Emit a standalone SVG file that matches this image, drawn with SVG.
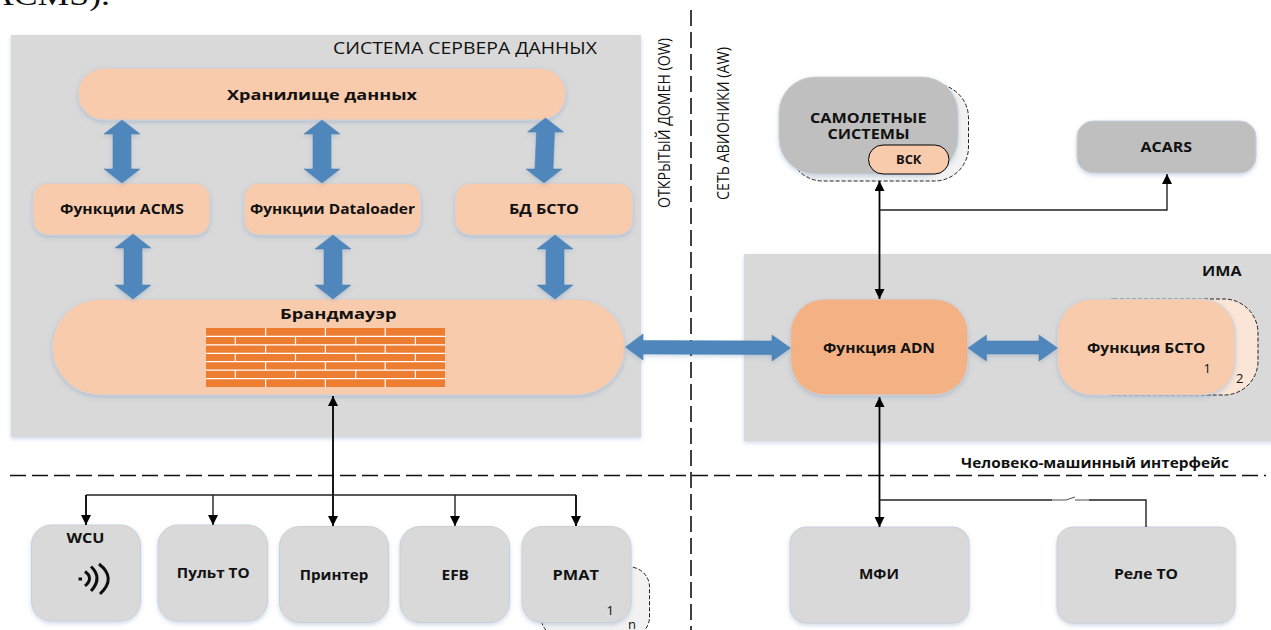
<svg xmlns="http://www.w3.org/2000/svg" width="1271" height="630" viewBox="0 0 1271 630">
<defs>
<filter id="sh" x="-10%" y="-10%" width="120%" height="125%"><feDropShadow dx="0" dy="2" stdDeviation="2" flood-color="#5b86b8" flood-opacity="0.3"/></filter>
<filter id="soft" x="-20%" y="-20%" width="140%" height="140%"><feGaussianBlur stdDeviation="0.6"/></filter>
<marker id="ah" viewBox="0 0 10 10" refX="10" refY="5" markerWidth="10" markerHeight="10" markerUnits="userSpaceOnUse" orient="auto-start-reverse"><path d="M0 0L10 5L0 10Z" fill="#000"/></marker>
</defs>
<style>
text{font-family:"Open Sans","Liberation Sans",sans-serif;fill:#111}
.b{font-weight:700;font-size:14px}
.r{font-size:16px}
.n{font-size:13px}
.panel{fill:#d9d9d9;filter:url(#sh)}
.peach{fill:#f8cbad;stroke:#c9d3de;stroke-width:1;filter:url(#sh)}
.gray{fill:#d9d9d9;stroke:#c9d0d8;stroke-width:1;filter:url(#sh)}
.dark{fill:#bfbfbf;stroke:#c9d0d8;stroke-width:1;filter:url(#sh)}
.dash{fill:#f2f2f2;stroke:#222;stroke-width:1;stroke-dasharray:4 2}
.blk{fill:#4f86bb;stroke:#4a7fb0;stroke-width:.5;filter:url(#sh)}
.sep{fill:none;stroke:#111;stroke-width:1.6;stroke-dasharray:16 6}
.c{fill:none;stroke:#000;stroke-width:1.8}
.c2{fill:none;stroke:#222;stroke-width:1.4}
.m{marker-end:url(#ah)}
.mm{marker-start:url(#ah);marker-end:url(#ah)}
.brick{stroke:#fff;stroke-width:1.2;fill:none}
</style>

<text x="-12" y="5" style="font-family:'Liberation Serif',serif;font-size:29px" textLength="122" lengthAdjust="spacingAndGlyphs">ACMS).</text>

<g id="panel-server"><rect class="panel" x="11" y="35" width="630" height="402"/><text class="r" x="333" y="53.500" textLength="264" lengthAdjust="spacingAndGlyphs">СИСТЕМА СЕРВЕРА ДАННЫХ</text></g>
<g id="panel-ima"><rect class="panel" x="744" y="254" width="540" height="187"/><text class="b" x="1202" y="275.500" textLength="39.500" lengthAdjust="spacingAndGlyphs">ИМА</text></g>

<g id="separators">
<path class="sep" d="M691 10V630"/>
<path class="sep" d="M10 475.500H1266"/>
</g>
<text class="r" transform="translate(669.500 208) rotate(-90)" textLength="170" lengthAdjust="spacingAndGlyphs">ОТКРЫТЫЙ ДОМЕН (OW)</text>
<text class="r" transform="translate(729 200) rotate(-90)" textLength="153" lengthAdjust="spacingAndGlyphs">СЕТЬ АВИОНИКИ  (AW)</text>
<text class="b" x="961" y="468" textLength="268" lengthAdjust="spacingAndGlyphs">Человеко-машинный интерфейс</text>

<g id="node-storage"><rect class="peach" x="78" y="68" width="488" height="52" rx="26"/><text class="b" x="227" y="99.500" style="font-size:15px" textLength="190" lengthAdjust="spacingAndGlyphs">Хранилище данных</text></g>
<g id="node-acms"><rect class="peach" x="33" y="183" width="177" height="52" rx="15"/><text class="b" x="60" y="213.500" textLength="124" lengthAdjust="spacingAndGlyphs">Функции ACMS</text></g>
<g id="node-dataloader"><rect class="peach" x="244" y="183" width="177" height="52" rx="15"/><text class="b" x="250" y="213.500" textLength="165" lengthAdjust="spacingAndGlyphs">Функции Dataloader</text></g>
<g id="node-bd"><rect class="peach" x="455" y="183" width="178" height="52" rx="15"/><text class="b" x="509" y="213.500" textLength="70" lengthAdjust="spacingAndGlyphs">БД БСТО</text></g>
<g id="node-firewall"><rect class="peach" x="52" y="299" width="573" height="96" rx="48"/><text class="b" x="280" y="318.500" style="font-size:15px" textLength="116.500" lengthAdjust="spacingAndGlyphs">Брандмауэр</text>
<rect x="206" y="328" width="239" height="59" fill="#ed7d31"/>
<path class="brick" d="M206 336.400H445M206 344.900H445M206 353.300H445M206 361.700H445M206 370.100H445M206 378.600H445M265.600 328V336.400M325.400 328V336.400M385.200 328V336.400M235.300 336.400V344.900M295.500 336.400V344.900M355.700 336.400V344.900M415.400 336.400V344.900M265.600 344.900V353.300M325.400 344.900V353.300M385.200 344.900V353.300M235.300 353.300V361.700M295.500 353.300V361.700M355.700 353.300V361.700M415.400 353.300V361.700M265.600 361.700V370.100M325.400 361.700V370.100M385.200 361.700V370.100M235.300 370.100V378.600M295.500 370.100V378.600M355.700 370.100V378.600M415.400 370.100V378.600M265.600 378.600V387M325.400 378.600V387M385.200 378.600V387"/></g>

<g id="node-aircraft"><rect class="dash" x="789" y="84" width="179.500" height="97" rx="34"/><rect class="dark" x="779" y="77" width="179" height="97" rx="36"/><text class="b" x="810" y="123" textLength="116.500" lengthAdjust="spacingAndGlyphs">САМОЛЕТНЫЕ</text><text class="b" x="827.500" y="139" textLength="82" lengthAdjust="spacingAndGlyphs">СИСТЕМЫ</text></g>
<g id="node-vsk"><rect x="868.500" y="145" width="80.500" height="29" rx="14.500" fill="#f8cbad" stroke="#000" stroke-width="1"/><text class="b" x="896" y="163.500" style="font-size:12px" textLength="25.500" lengthAdjust="spacingAndGlyphs">ВСК</text></g>
<g id="node-acars"><rect class="dark" x="1077" y="121" width="179" height="52" rx="16"/><text class="b" x="1140.500" y="152" textLength="51.500" lengthAdjust="spacingAndGlyphs">ACARS</text></g>
<g id="node-adn"><rect x="790.500" y="299" width="177.500" height="96" rx="34" fill="#f4b183" stroke="#c9d3de" filter="url(#sh)"/><text class="b" x="823" y="352.500" textLength="112" lengthAdjust="spacingAndGlyphs">Функция ADN</text></g>
<g id="node-bsto"><rect x="1080" y="299" width="178" height="96" rx="34" fill="#fbe5d6" stroke="#222" stroke-dasharray="4 2"/><rect class="peach" x="1057.500" y="299" width="177.500" height="96" rx="34"/><text class="b" x="1087" y="352.500" textLength="118.500" lengthAdjust="spacingAndGlyphs">Функция БСТО</text><text class="n" x="1203.500" y="372.500">1</text><text class="n" x="1236" y="382.500">2</text></g>

<g id="node-wcu"><rect class="gray" x="31.500" y="525" width="109" height="96" rx="20"/><text class="b" x="66.500" y="542.500" textLength="38" lengthAdjust="spacingAndGlyphs">WCU</text>
<g fill="none" stroke="#111" stroke-width="3" filter="url(#soft)"><path d="M78.500 579H82"/><path d="M85 571.500Q94 578 85 586"/><path d="M91 566.500Q103 578 91 591"/><path d="M99 564Q117 578 100 594"/></g></g>
<g id="node-pult"><rect class="gray" x="158" y="525" width="109.500" height="96" rx="20"/><text class="b" x="176.800" y="577.500" textLength="72.800" lengthAdjust="spacingAndGlyphs">Пульт ТО</text></g>
<g id="node-printer"><rect class="gray" x="279.500" y="526.500" width="109" height="96" rx="20"/><text class="b" x="299.700" y="579.500" textLength="68.600" lengthAdjust="spacingAndGlyphs">Принтер</text></g>
<g id="node-efb"><rect class="gray" x="400" y="526.500" width="109.500" height="96" rx="20"/><text class="b" x="441.500" y="579.500" textLength="27.500" lengthAdjust="spacingAndGlyphs">EFB</text></g>
<g id="node-pmat"><rect class="dash" x="541" y="567" width="108.500" height="70" rx="20"/><rect class="gray" x="522" y="526.500" width="109" height="96" rx="20"/><text class="b" x="552.600" y="579.500" textLength="46.400" lengthAdjust="spacingAndGlyphs">PMAT</text><text class="n" x="606.500" y="615">1</text><text class="n" x="628" y="628.500">n</text></g>
<g id="node-mfi"><rect class="gray" x="790" y="527" width="179" height="96" rx="16"/><text class="b" x="859" y="579" textLength="40" lengthAdjust="spacingAndGlyphs">МФИ</text></g>
<g id="node-rele"><rect class="gray" x="1057" y="527" width="178" height="96" rx="16"/><text class="b" x="1114" y="579" textLength="64" lengthAdjust="spacingAndGlyphs">Реле ТО</text></g>

<g id="connectors">
<polygon class="blk" points="122,120 140,134 131,134 131,169 140,169 122,183 104,169 113,169 113,134 104,134"/>
<polygon class="blk" points="322,120 340,134 331,134 331,169 340,169 322,183 304,169 313,169 313,134 304,134"/>
<polygon class="blk" points="545.500,118 563.500,132 554.500,132 553,169 562,169 544,183 526,169 535,169 536.500,132 527.500,132"/>
<polygon class="blk" points="133,234 151,248 142,248 142,285 151,285 133,299 115,285 124,285 124,248 115,248"/>
<polygon class="blk" points="333,235 351,249 342,249 342,285 351,285 333,299 315,285 324,285 324,249 315,249"/>
<polygon class="blk" points="555,235 573,249 564,249 564,285 573,285 555,299 537,285 546,285 546,249 537,249"/>
<polygon class="blk" points="625.500,347 643,334 643,340.500 772,341 772,335 790.500,348 772,361 772,354.500 643,354 643,360"/>
<polygon class="blk" points="968,348 986.500,335 986.500,341 1039,341 1039,335 1057.500,348 1039,361 1039,354 986.500,354 986.500,361"/>
<path class="c mm" d="M879.500 181V299"/>
<path class="c2 m" d="M879.500 210H1167V174"/>
<path class="c mm" d="M879.500 397V527"/>
<path class="c2" d="M879.500 500H1052"/>
<path class="c2" style="stroke-width:.8" d="M1052 500H1066L1075 497"/>
<path class="c2" d="M1075 500H1089" style="stroke-width:.8"/>
<path class="c2" d="M1089 500H1146V527"/>
<path class="c mm" d="M333 396V526"/>
<path class="c2" d="M86 495H576"/>
<path class="c m" d="M86 495V525"/>
<path class="c2 m" d="M213 495V525"/>
<path class="c2 m" d="M455 495V526"/>
<path class="c m" d="M576 495V526"/>
</g>
</svg>
